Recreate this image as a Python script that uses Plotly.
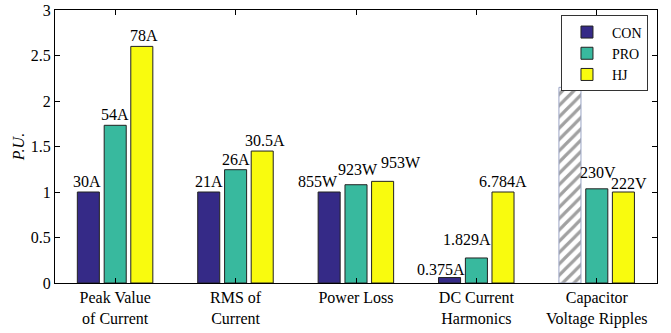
import plotly.graph_objects as go

categories = ["Peak Value<br>of Current", "RMS of<br>Current", "Power Loss",
              "DC Current<br>Harmonics", "Capacitor<br>Voltage Ripples"]
series_names = ["CON", "PRO", "HJ"]
con_values = [1.0, 1.0, 1.0, 0.06, 2.15]
pro_values = [1.733, 1.245, 1.08, 0.275, 1.035]
hj_values = [2.6, 1.45, 1.117, 1.0, 1.0]
con_labels = ["30A", "21A", "855W", "0.375A", ""]
pro_labels = ["54A", "26A", "923W", "1.829A", "230V"]
hj_labels = ["78A", "30.5A", "953W", "6.784A", "222V"]
y_ticks = [0, 0.5, 1, 1.5, 2, 2.5, 3]

# styles
colors = ["#352a87", "#38b99e", "#f9fb0e"]
offsets = [-0.223, 0.0, 0.221]
bar_width = 0.183
label_dx = [[-0.01, 0.0, -0.09, -0.07, 0.0],
            [0.0, 0.0, 0.02, -0.08, 0.01],
            [0.02, 0.02, 0.15, 0.0, 0.05]]
label_dy = [[0, 0, 0, -2, 0],
            [0, 0, 5, 8, 6],
            [0, 0, 8, 0, -2]]
FONT = "Liberation Serif"

values = [con_values, pro_values, hj_values]
labels = [con_labels, pro_labels, hj_labels]
n = len(categories)

fig = go.Figure()
for s in range(3):
    xs = [i + offsets[s] for i in range(n)]
    if s == 0:
        mcolor = [colors[0]] * (n - 1) + ["#ffffff"]
        pshape = [""] * (n - 1) + ["/"]
        lcolor = ["#222222"] * (n - 1) + ["#9aa4c4"]
        marker = dict(color=mcolor, line=dict(color=lcolor, width=1),
                      pattern=dict(shape=pshape, fgcolor="#5570b2",
                                   size=8, solidity=0.4, fillmode="overlay"))
    else:
        marker = dict(color=colors[s], line=dict(color="#222222", width=1))
    fig.add_trace(go.Bar(x=xs, y=values[s], width=bar_width, name=series_names[s],
                         marker=marker))
    for i in range(n):
        if labels[s][i]:
            fig.add_annotation(x=xs[i] + label_dx[s][i], y=values[s][i],
                               text=labels[s][i], showarrow=False,
                               yanchor="bottom", xanchor="center",
                               yshift=label_dy[s][i],
                               font=dict(family=FONT, size=16, color="black"))

fig.update_layout(
    width=671, height=333,
    margin=dict(l=55, r=14, t=10, b=50),
    plot_bgcolor="white", paper_bgcolor="white",
    font=dict(family=FONT, size=16, color="black"),
    showlegend=True,
    legend=dict(x=0.985, y=0.98, xanchor="right", yanchor="top",
                bordercolor="#333333", borderwidth=1, bgcolor="white",
                font=dict(family=FONT, size=14), tracegroupgap=0,
                itemwidth=40),
    barmode="overlay",
)
fig.update_xaxes(range=[-0.5, n - 0.5], tickvals=list(range(n)), ticktext=categories,
                 showline=True, linecolor="black", linewidth=1, mirror="allticks",
                 ticks="inside", ticklen=5, tickcolor="black", showgrid=False,
                 zeroline=False, tickfont=dict(family=FONT, size=16), automargin=False)
fig.update_yaxes(range=[0, 3], tickvals=y_ticks, ticktext=[f"{t:g}" for t in y_ticks],
                 showline=True, linecolor="black", linewidth=1, mirror="allticks",
                 ticks="inside", ticklen=5, tickcolor="black", showgrid=False,
                 zeroline=False, tickfont=dict(family=FONT, size=16), automargin=False,
                 title=dict(text="<i>P.U.</i>", font=dict(family=FONT, size=16),
                            standoff=2))

fig.write_html("out.html")
